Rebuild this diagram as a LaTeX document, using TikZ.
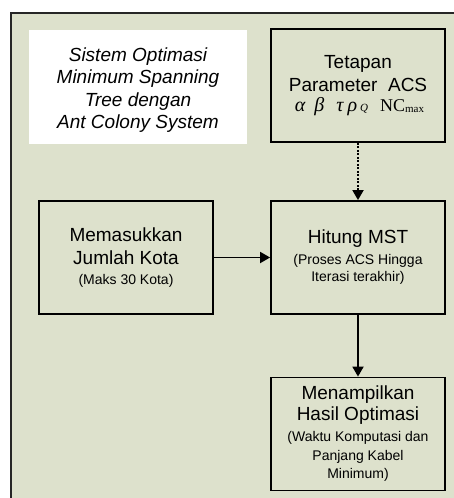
\documentclass[tikz,border=0pt]{standalone}
\usepackage{fontspec}
\setmainfont{Liberation Sans}
\newfontfamily\tnr{Liberation Serif}
\usetikzlibrary{arrows.meta}
\definecolor{bgfill}{RGB}{221,225,204}
\newcommand{\fbig}{\fontsize{19}{22.5}\selectfont}
\newcommand{\fsmall}{\fontsize{14}{18}\selectfont}
\begin{document}
\begin{tikzpicture}[x=1pt,y=-1pt,
  box/.style={draw=black, line width=1.8pt, fill=bgfill, minimum width=174pt, minimum height=113pt, inner sep=0pt, align=center, font=\fbig},
  arr/.style={line width=1.8pt, -{Triangle[length=10pt,width=11pt]}},
  dotarr/.style={line width=1.8pt, dash pattern=on 2pt off 1.5pt, -{Triangle[length=10pt,width=11pt]}}]
\useasboundingbox (0,0) rectangle (454,498);
\clip (0,0) rectangle (454,498);
\draw[line width=1.5pt, draw=black!85, fill=bgfill] (11,13) rectangle (470,520);
\fill[white] (29,30) rectangle (247,144);
\node[font=\fbig\itshape, align=center, inner sep=0pt] (title) at (138,90) {Sistem Optimasi\\Minimum Spanning\\Tree dengan\\Ant Colony System};
\node[box] (par) at (358,85.5) {Tetapan\\Parameter\ \ ACS\\[-2.5pt]\hspace*{3pt}{\tnr\fontsize{20}{22}\selectfont\itshape α\hspace{9pt}β\hspace{12pt}τ\hspace{4pt}ρ\hspace{3pt}{\fontsize{11}{11}\selectfont Q}\hspace{12pt}\upshape\fontsize{18}{18}\selectfont NC{\fontsize{11}{11}\selectfont\raisebox{-1.5pt}{max}}}};
\node[box] (mem) at (126,257.5) {Memasukkan\\Jumlah Kota\\[-2.5pt]\fsmall (Maks 30 Kota)};
\node[box] (mst) at (358,257.5) {Hitung MST\\[-1.5pt]\fsmall (Proses ACS Hingga\\[-5.5pt]\fsmall Iterasi terakhir)};
\node[box] (out) at (358,434) {Menampilkan\\[-1.5pt]Hasil Optimasi\\[-1.5pt]\fsmall (Waktu Komputasi dan\\[-3.5pt]\fsmall Panjang Kabel\\[-4.5pt]\fsmall Minimum)};
\draw[dotarr] (par.south) -- (mst.north);
\draw[arr] (mem.east) -- (mst.west);
\draw[arr] (mst.south) -- (out.north);
\end{tikzpicture}
\end{document}
